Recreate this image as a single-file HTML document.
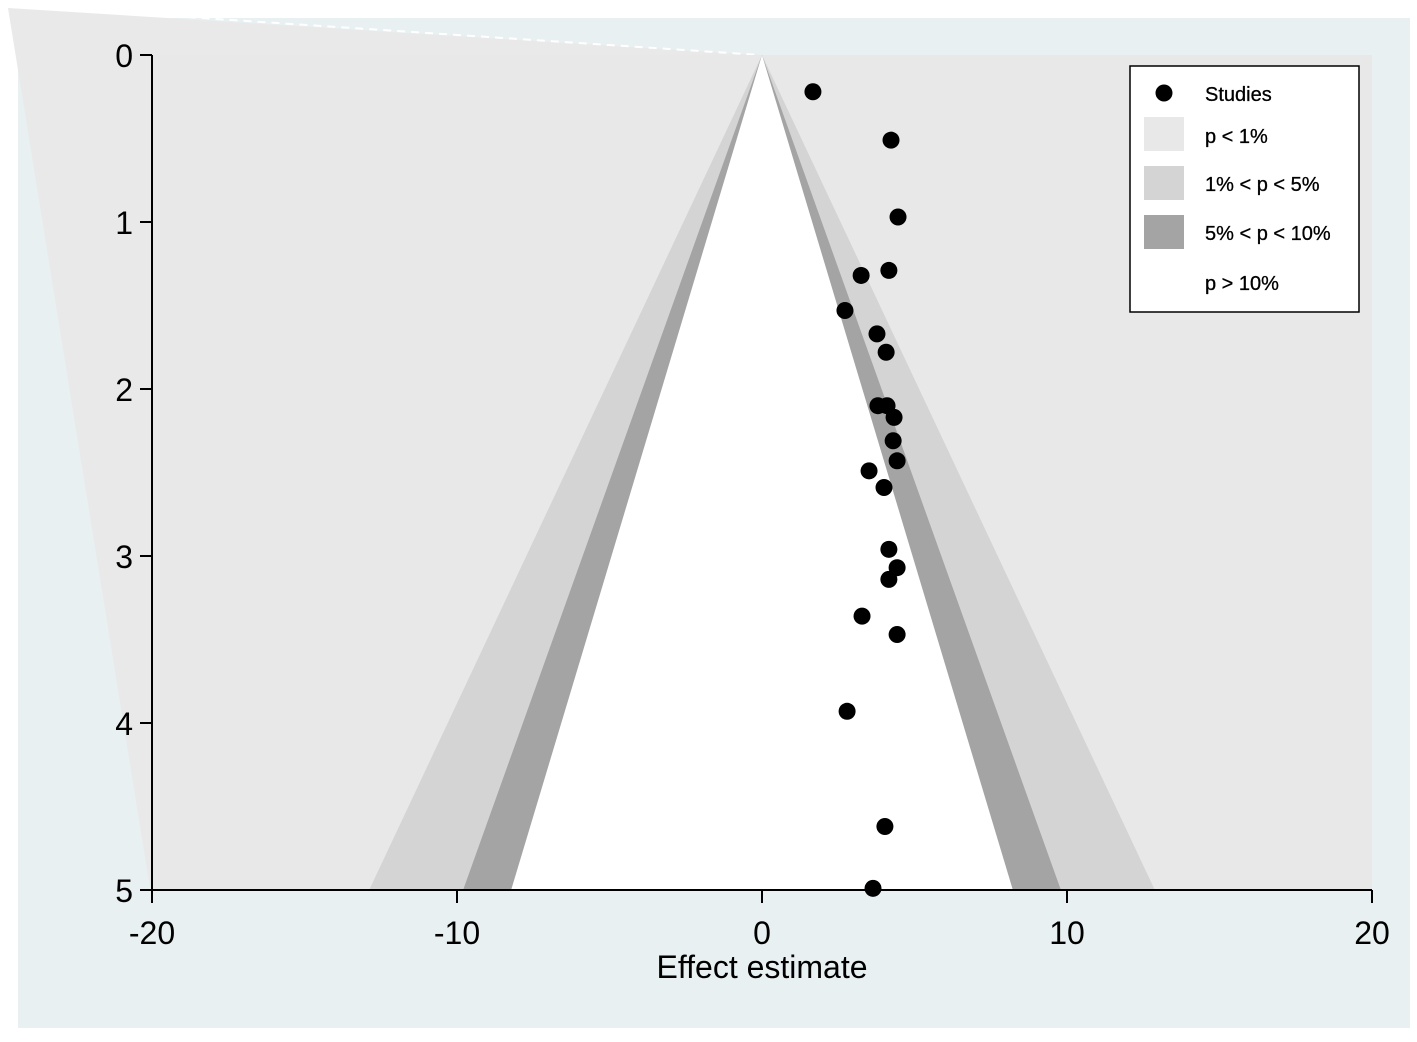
<!DOCTYPE html>
<html><head><meta charset="utf-8"><style>
body{margin:0;background:#fff;font-family:"Liberation Sans",sans-serif}
</style></head><body>
<svg width="1417" height="1037" viewBox="0 0 1417 1037" id="chart">
<rect x="18" y="18" width="1392" height="1010" fill="#e8f0f2"/>
<polygon points="8,8 760,55 150,888" fill="#e9e9e9"/>
<line x1="20" y1="6" x2="760" y2="55" stroke="#fff" stroke-width="2" stroke-dasharray="8,6"/>
<rect x="152" y="55" width="1220" height="835" fill="#e8e8e8"/>
<g id="contours"></g>
<g id="axes"></g>
<g id="points"></g>
<g>
<rect x="1130" y="66" width="229" height="246" fill="#fff" stroke="#000" stroke-width="1.5"/>
<circle cx="1164" cy="93" r="8.5" fill="#000"/>
<text x="1205" y="101" font-size="20" stroke="#000" stroke-width="0.3">Studies</text>
<rect x="1144" y="117" width="40" height="34" fill="#e8e8e8"/>
<text x="1205" y="143" font-size="20" stroke="#000" stroke-width="0.3">p &lt; 1%</text>
<rect x="1144" y="166" width="40" height="34" fill="#d4d4d4"/>
<text x="1205" y="191" font-size="20" stroke="#000" stroke-width="0.3">1% &lt; p &lt; 5%</text>
<rect x="1144" y="215" width="40" height="34" fill="#a4a4a4"/>
<text x="1205" y="240" font-size="20" stroke="#000" stroke-width="0.3">5% &lt; p &lt; 10%</text>
<text x="1205" y="290" font-size="20" stroke="#000" stroke-width="0.3">p &gt; 10%</text>
</g>
</svg>
<script>
const effects=[1.67,4.23,4.46,4.16,3.25,2.72,3.77,4.07,3.80,4.10,4.33,4.30,4.43,3.51,4.0,4.16,4.43,4.16,3.28,4.43,2.79,4.03,3.64];
const ses=[0.22,0.51,0.97,1.29,1.32,1.53,1.67,1.78,2.10,2.10,2.17,2.31,2.43,2.49,2.59,2.96,3.07,3.14,3.36,3.47,3.93,4.62,4.99];
const xTicks=[-20,-10,0,10,20];
const yTicks=[0,1,2,3,4,5];
const zCrit=[2.576,1.96,1.645];
const bandColors=["#d4d4d4","#a4a4a4","#fff"];
const NS="http://www.w3.org/2000/svg";
const X=v=>762+v*30.5, Y=v=>55+v*167;
function mk(t,a,p){const e=document.createElementNS(NS,t);for(const k in a)e.setAttribute(k,a[k]);p.appendChild(e);return e;}
const cg=document.getElementById('contours');
zCrit.forEach((z,i)=>{
 const p=mk('polygon',{points:`${X(0)},${Y(0)} ${X(-z*5)},${Y(5)} ${X(z*5)},${Y(5)}`,fill:bandColors[i]},cg);
 
 
});
const ag=document.getElementById('axes');
const ya=mk('line',{x1:152,y1:55,x2:152,y2:890,stroke:'#000','stroke-width':2},ag);


const xa=mk('line',{x1:140,y1:890,x2:1372,y2:890,stroke:'#000','stroke-width':2},ag);


yTicks.forEach(v=>{
 mk('line',{x1:140,y1:Y(v),x2:152,y2:Y(v),stroke:'#000','stroke-width':2},ag);
 const t=mk('text',{x:133,y:Y(v)+12,'font-size':32,'text-anchor':'end'},ag);t.textContent=v;
 
 
});
xTicks.forEach(v=>{
 mk('line',{x1:X(v),y1:890,x2:X(v),y2:903,stroke:'#000','stroke-width':2},ag);
 const t=mk('text',{x:X(v),y:944,'font-size':32,'text-anchor':'middle'},ag);t.textContent=v;
 
 
});
const xt=mk('text',{x:762,y:978,'font-size':32,'text-anchor':'middle'},ag);xt.textContent='Effect estimate';


const pg=document.getElementById('points');
effects.forEach((e,i)=>{
 const c=mk('circle',{cx:X(e),cy:Y(ses[i]),r:8.5,fill:'#000'},pg);
 
 
});
</script>
</body></html>
